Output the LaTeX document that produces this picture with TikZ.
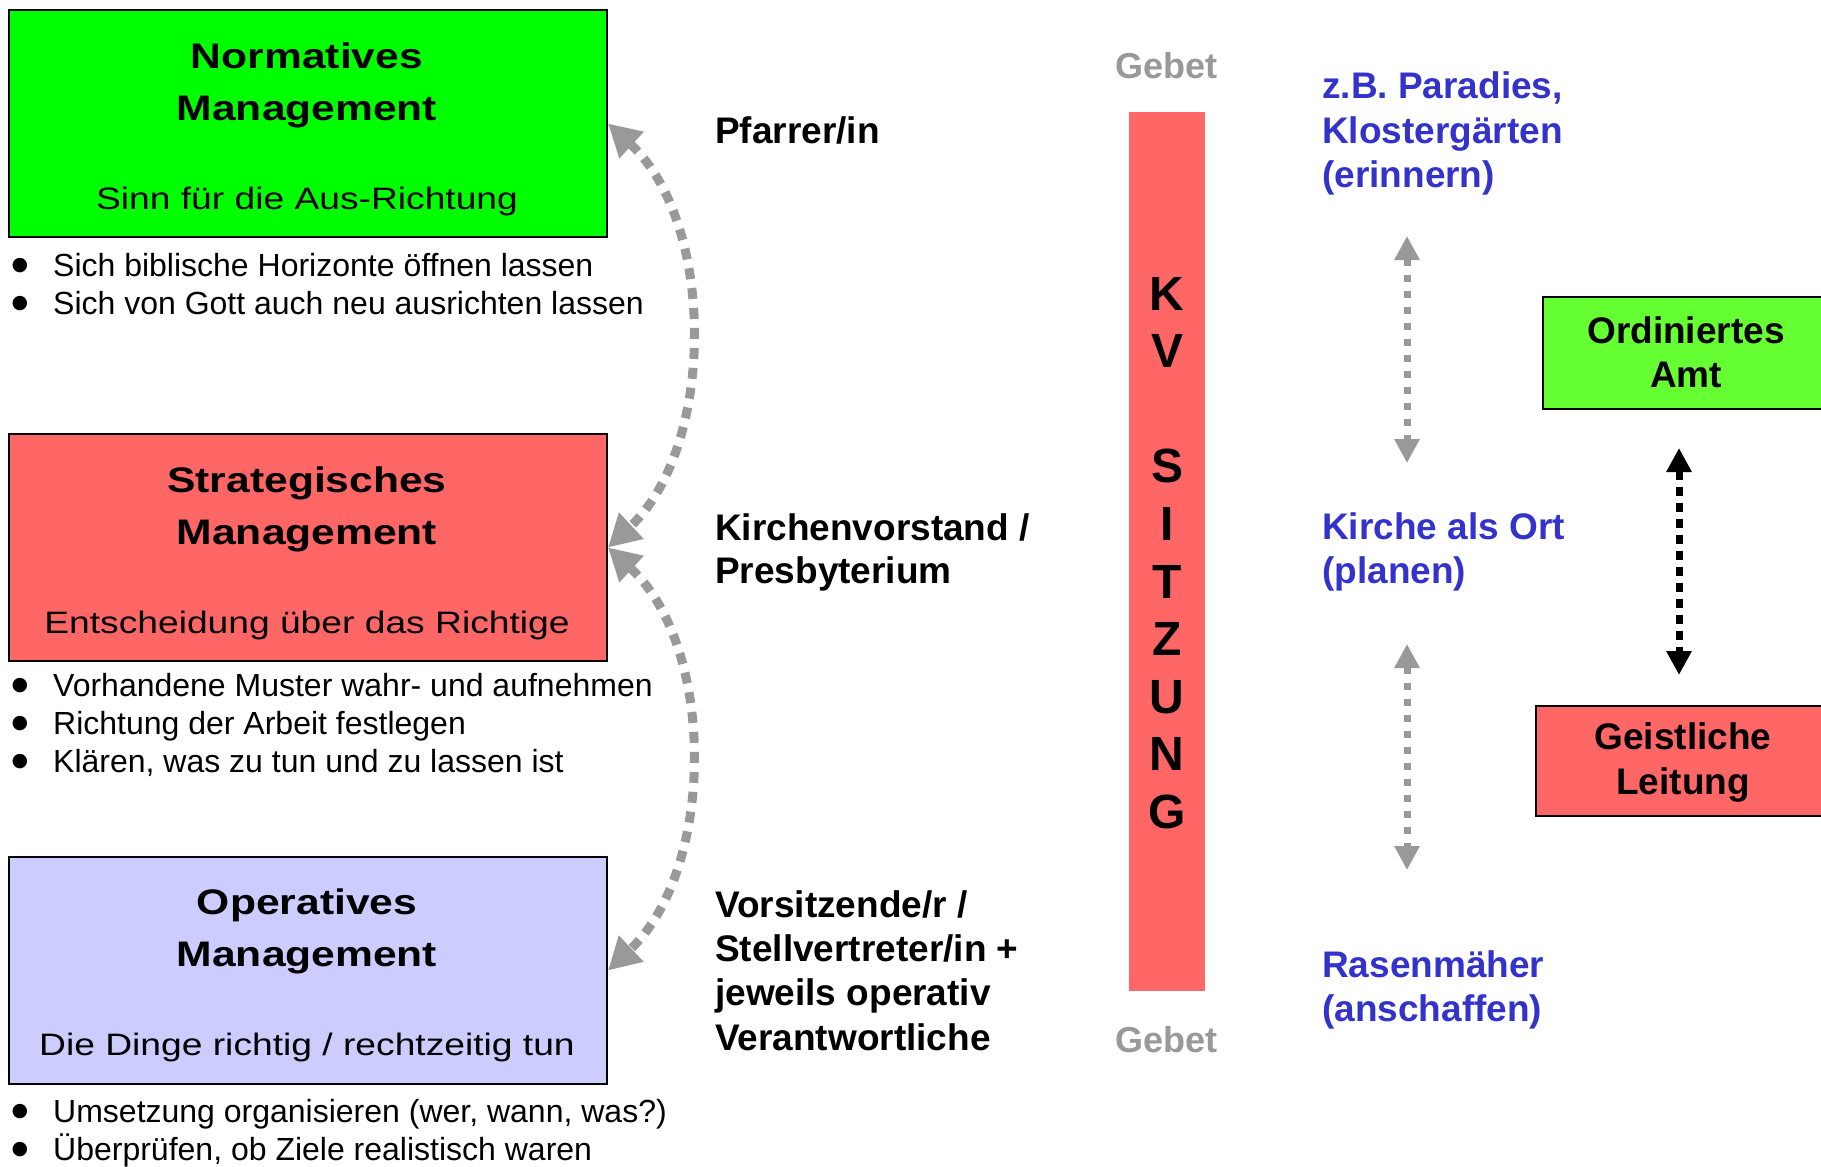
\documentclass[tikz,border=0pt]{standalone}
\usepackage{fontspec}
\setmainfont{Liberation Sans}
\newfontfamily\boxfont{Liberation Sans}[FakeStretch=1.2]
\newfontfamily\symfont{DejaVu Sans}
\usetikzlibrary{arrows.meta}
\definecolor{normgreen}{HTML}{00FF00}
\definecolor{stratred}{HTML}{FF6666}
\definecolor{oplav}{HTML}{CCCCFF}
\definecolor{amtgreen}{HTML}{66FF33}
\definecolor{bluetxt}{HTML}{3333CC}
\definecolor{grayc}{HTML}{999999}
\begin{document}
\begin{tikzpicture}[x=1pt,y=-1pt,
  mbox/.style={draw=black, line width=2pt, anchor=north west, inner sep=0pt, minimum width=598pt, minimum height=227pt},
  rbox/.style={draw=black, line width=2pt, anchor=north west, inner sep=0pt},
  lt/.style={inner sep=0pt, anchor=base west},
  ct/.style={inner sep=0pt, anchor=base},
  titletxt/.style={ct, font=\boxfont\bfseries\fontsize{35.5}{42}\selectfont},
  subtxt/.style={ct, font=\boxfont\fontsize{31}{37}\selectfont},
  bultxt/.style={lt, font=\fontsize{32}{38}\selectfont},
  buldot/.style={inner sep=0pt, anchor=center, font=\symfont\fontsize{19}{19}\selectfont},
  labtxt/.style={lt, font=\bfseries\fontsize{37}{44}\selectfont},
  blutxt/.style={lt, text=bluetxt, font=\bfseries\fontsize{37}{44}\selectfont},
  gebettxt/.style={ct, text=grayc, font=\bfseries\fontsize{36}{44}\selectfont},
  kvtxt/.style={ct, font=\bfseries\fontsize{48}{58}\selectfont},
  boxtxt/.style={ct, font=\bfseries\fontsize{37}{44}\selectfont},
  curvearrow/.style={draw=grayc, line width=9pt, dash pattern=on 11pt off 9pt,
     {Triangle[length=32pt,width=34pt]}-{Triangle[length=32pt,width=34pt]}},
  grayarrow/.style={draw=grayc, line width=7pt, dash pattern=on 7pt off 9pt,
     {Triangle[length=24pt,width=24pt]}-{Triangle[length=24pt,width=24pt]}},
  blackarrow/.style={draw=black, line width=7pt, dash pattern=on 9pt off 7pt,
     {Triangle[length=24pt,width=24pt]}-{Triangle[length=24pt,width=24pt]}}
]
\useasboundingbox (0,0) rectangle (1821,1167);
\clip (0,0) rectangle (1821,1167);
\fill[white] (0,0) rectangle (1821,1167);

% left management boxes
\node[mbox, fill=normgreen] (nm) at (8,9) {};
\node[mbox, fill=stratred] (st) at (8,433) {};
\node[mbox, fill=oplav] (op) at (8,856) {};

\node[titletxt] (nm1) at (307,68) {Normatives};
\node[titletxt] (nm2) at (307,120) {Management};
\node[subtxt] (nm3) at (307,209) {Sinn für die Aus-Richtung};

\node[titletxt] (st1) at (307,492) {Strategisches};
\node[titletxt] (st2) at (307,544) {Management};
\node[subtxt] (st3) at (307,633) {Entscheidung über das Richtige};

\node[titletxt] (op1) at (307,914) {Operatives};
\node[titletxt] (op2) at (307,966) {Management};
\node[subtxt] (op3) at (307,1055) {Die Dinge richtig / rechtzeitig tun};

% bullets
\node[buldot] (d1) at (20,265.5) {●};
\node[bultxt] (b1) at (53,276) {Sich biblische Horizonte öffnen lassen};
\node[buldot] (d2) at (20,303.5) {●};
\node[bultxt] (b2) at (53,314) {Sich von Gott auch neu ausrichten lassen};

\node[buldot] (d3) at (20,686) {●};
\node[bultxt] (b3) at (53,696.5) {Vorhandene Muster wahr- und aufnehmen};
\node[buldot] (d4) at (20,724) {●};
\node[bultxt] (b4) at (53,734.5) {Richtung der Arbeit festlegen};
\node[buldot] (d5) at (20,762) {●};
\node[bultxt] (b5) at (53,772.5) {Klären, was zu tun und zu lassen ist};

\node[buldot] (d6) at (20,1111.5) {●};
\node[bultxt] (b6) at (53,1122) {Umsetzung organisieren (wer, wann, was?)};
\node[buldot] (d7) at (20,1149.5) {●};
\node[bultxt] (b7) at (53,1160) {Überprüfen, ob Ziele realistisch waren};

% curved arrows
\draw[curvearrow] (nm.east) .. controls (716,222.5) and (716,446.5) .. (st.east);
\draw[curvearrow] (st.east) .. controls (716,646.5) and (716,868.5) .. (op.east);

% middle labels
\node[labtxt] (pf) at (715,143) {Pfarrer/in};
\node[labtxt] (kv1l) at (715,540) {Kirchenvorstand /};
\node[labtxt] (kv2l) at (715,583) {Presbyterium};
\node[labtxt] (vs1) at (715,917) {Vorsitzende/r /};
\node[labtxt] (vs2) at (715,961.3) {Stellvertreter/in +};
\node[labtxt] (vs3) at (715,1005.6) {jeweils operativ};
\node[labtxt] (vs4) at (715,1050) {Verantwortliche};

% KV Sitzung bar
\fill[stratred] (1129,112) rectangle (1205,991);
\node[gebettxt] (g1) at (1166,78) {Gebet};
\node[gebettxt] (g2) at (1166,1052) {Gebet};
\foreach \l/\k [count=\i] in {K/0,V/1,S/3,I/4,T/5,Z/6,U/7,N/8,G/9}
  \node[kvtxt] (kv\i) at (1167,{310+57.6*\k}) {\l};

% blue texts
\node[blutxt] (p1) at (1322,98) {z.B. Paradies,};
\node[blutxt] (p2) at (1322,143) {Klostergärten};
\node[blutxt] (p3) at (1322,187) {(erinnern)};
\node[blutxt] (k1) at (1322,539) {Kirche als Ort};
\node[blutxt] (k2) at (1322,583) {(planen)};
\node[blutxt] (r1) at (1322,977) {Rasenmäher};
\node[blutxt] (r2) at (1322,1021) {(anschaffen)};

\coordinate (u1) at (1407,236);
\coordinate (u2) at (1407,463);
\coordinate (l1) at (1407,644);
\coordinate (l2) at (1407,870);
\draw[grayarrow] (u1) -- (u2);
\draw[grayarrow] (l1) -- (l2);

% right boxes
\node[rbox, fill=amtgreen, minimum width=289pt, minimum height=112pt] (oa) at (1542,296) {};
\node[boxtxt] (oa1) at (1686,343) {Ordiniertes};
\node[boxtxt] (oa2) at (1686,387) {Amt};
\node[rbox, fill=stratred, minimum width=296pt, minimum height=110pt] (gl) at (1535,705) {};
\node[boxtxt] (gl1) at (1683,749) {Geistliche};
\node[boxtxt] (gl2) at (1683,794) {Leitung};

\coordinate (bt) at (1679,448);
\coordinate (bb) at (1679,675);
\draw[blackarrow] (bt) -- (bb);
\end{tikzpicture}
\end{document}
